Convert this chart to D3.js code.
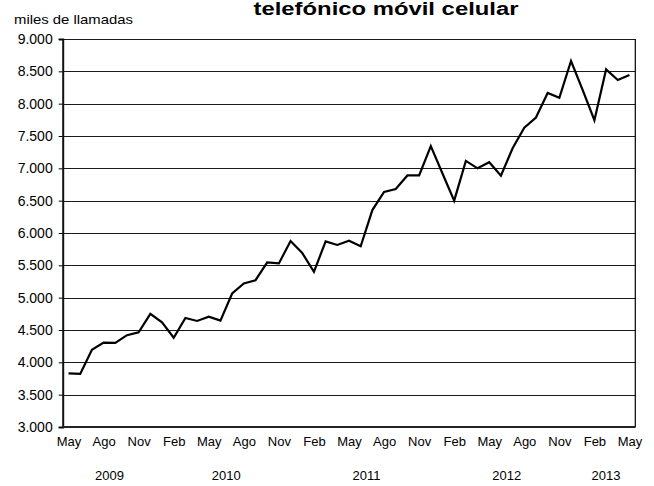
<!DOCTYPE html>
<html lang="es">
<head>
    <meta charset="UTF-8">
    <title>Tráfico telefónico móvil celular</title>
    <script src="https://d3js.org/d3.v7.min.js"></script>
    <style>
        body {
            margin: 0;
            background: #fff;
            font-family: "Liberation Sans", Arial, sans-serif;
        }
        .tick text {
            fill: #000;
        }
    </style>
</head>
<body>
    <div id="chart"></div>

    <script>
        // periodos mensuales (may 2009 - may 2013)
        const periodos = [
            "2009-05", "2009-06", "2009-07", "2009-08", "2009-09", "2009-10", "2009-11", "2009-12",
            "2010-01", "2010-02", "2010-03", "2010-04", "2010-05", "2010-06", "2010-07", "2010-08",
            "2010-09", "2010-10", "2010-11", "2010-12",
            "2011-01", "2011-02", "2011-03", "2011-04", "2011-05", "2011-06", "2011-07", "2011-08",
            "2011-09", "2011-10", "2011-11", "2011-12",
            "2012-01", "2012-02", "2012-03", "2012-04", "2012-05", "2012-06", "2012-07", "2012-08",
            "2012-09", "2012-10", "2012-11", "2012-12",
            "2013-01", "2013-02", "2013-03", "2013-04", "2013-05"
        ];

        // miles de llamadas
        const llamadas = [
            3830, 3820, 4195, 4305, 4300, 4420, 4465, 4750,
            4620, 4380, 4685, 4640, 4705, 4645, 5065, 5220,
            5270, 5545, 5530, 5875,
            5690, 5400, 5870, 5815, 5880, 5795, 6355, 6635,
            6680, 6890, 6890, 7345,
            6920, 6500, 7115, 7000, 7095, 6885, 7310, 7630,
            7785, 8165, 8090, 8660,
            8210, 7745, 8530, 8365, 8445
        ];

        const nombresMes = {
            "01": "Ene", "02": "Feb", "03": "Mar", "04": "Abr", "05": "May", "06": "Jun",
            "07": "Jul", "08": "Ago", "09": "Sep", "10": "Oct", "11": "Nov", "12": "Dic"
        };
        const mesesEtiqueta = ["02", "05", "08", "11"];
        const anios = ["2009", "2010", "2011", "2012", "2013"];
        const yTicks = [3000, 3500, 4000, 4500, 5000, 5500, 6000, 6500, 7000, 7500, 8000, 8500, 9000];

        const width = 654, height = 486;
        const margin = { top: 39, right: 18.7, bottom: 59, left: 62.7 };

        const svg = d3.select("#chart")
            .append("svg")
            .attr("width", width)
            .attr("height", height);

        const x = d3.scalePoint()
            .domain(periodos)
            .range([margin.left, width - margin.right])
            .padding(0.5);

        const y = d3.scaleLinear()
            .domain([3000, 9000])
            .range([height - margin.bottom, margin.top]);

        const es = d3.formatLocale({ decimal: ",", thousands: ".", grouping: [3], currency: ["$", ""] });
        const fmt = es.format(",d");

        // titulo
        svg.append("text")
            .attr("x", 386)
            .attr("y", 15)
            .attr("text-anchor", "middle")
            .attr("font-weight", "bold")
            .attr("font-size", 18)
            .attr("textLength", 265)
            .attr("lengthAdjust", "spacingAndGlyphs")
            .text("telefónico móvil celular");

        svg.append("text")
            .attr("x", 14)
            .attr("y", 24)
            .attr("font-size", 13)
            .attr("textLength", 119)
            .attr("lengthAdjust", "spacingAndGlyphs")
            .text("miles de llamadas");

        // lineas de cuadricula
        svg.append("g")
            .selectAll("line")
            .data(yTicks)
            .enter()
            .append("line")
            .attr("x1", margin.left)
            .attr("x2", width - margin.right)
            .attr("y1", d => Math.round(y(d)) + 0.5)
            .attr("y2", d => Math.round(y(d)) + 0.5)
            .attr("stroke", "#1a1a1a")
            .attr("stroke-width", 1);

        // borde derecho
        svg.append("line")
            .attr("x1", width - margin.right)
            .attr("x2", width - margin.right)
            .attr("y1", y(9000))
            .attr("y2", y(3000))
            .attr("stroke", "#000")
            .attr("stroke-width", 1.2);

        // eje Y
        const yAxis = svg.append("g")
            .attr("transform", `translate(${margin.left},0)`)
            .call(d3.axisLeft(y).tickValues(yTicks).tickFormat(fmt).tickSize(4).tickPadding(6));
        yAxis.select(".domain").attr("stroke-width", 2).attr("stroke", "#111");
        yAxis.selectAll(".tick line").attr("stroke", "#000");
        yAxis.selectAll(".tick text")
            .attr("font-family", "'Liberation Sans', Arial, sans-serif")
            .attr("font-size", 14);

        // eje inferior
        svg.append("line")
            .attr("x1", margin.left)
            .attr("x2", width - margin.right)
            .attr("y1", y(3000))
            .attr("y2", y(3000))
            .attr("stroke", "#222")
            .attr("stroke-width", 2);

        const xAxis = svg.append("g")
            .attr("transform", `translate(0,${y(3000)})`)
            .call(d3.axisBottom(x)
                .tickValues(periodos.filter(p => mesesEtiqueta.includes(p.slice(5))))
                .tickFormat(p => nombresMes[p.slice(5)])
                .tickSize(0)
                .tickPadding(10));
        xAxis.select(".domain").remove();
        xAxis.selectAll(".tick text")
            .attr("font-family", "'Liberation Sans', Arial, sans-serif")
            .attr("font-size", 13);

        // años centrados bajo sus meses
        svg.append("g")
            .selectAll("text")
            .data(anios)
            .enter()
            .append("text")
            .attr("x", a => d3.mean(periodos.filter(p => p.startsWith(a)), p => x(p)))
            .attr("y", 480)
            .attr("text-anchor", "middle")
            .attr("font-size", 13)
            .text(a => a);

        // serie
        const line = d3.line()
            .x((d, i) => x(periodos[i]))
            .y(d => y(d));

        svg.append("path")
            .datum(llamadas)
            .attr("fill", "none")
            .attr("stroke", "#000")
            .attr("stroke-width", 2.2)
            .attr("stroke-linejoin", "miter")
            .attr("d", line);
    </script>
</body>
</html>
